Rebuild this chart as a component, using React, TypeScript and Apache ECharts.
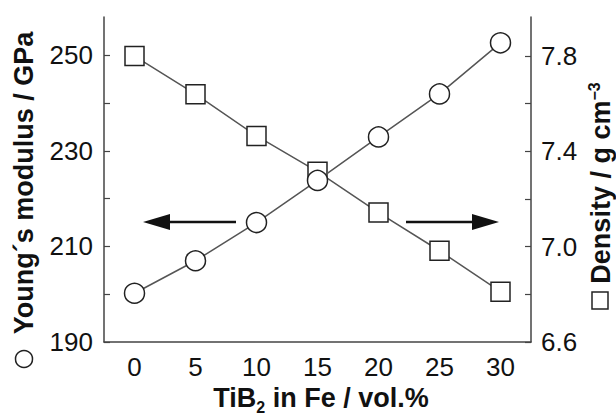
import React, { useEffect, useRef } from "react";
import * as echarts from "echarts";

const categories = ["0", "5", "10", "15", "20", "25", "30"];
const youngsModulus = [200.2, 207.0, 215.0, 223.8, 232.9, 241.9, 252.6];
const density = [7.80, 7.64, 7.465, 7.315, 7.143, 6.983, 6.811];
const leftTicks = [190, 200, 210, 220, 230, 240, 250];
const leftLabels = [190, 210, 230, 250];
const rightTicks = [6.6, 6.8, 7.0, 7.2, 7.4, 7.6, 7.8];
const rightLabels = [6.6, 7.0, 7.4, 7.8];

export default function App() {
  const ref = useRef<HTMLDivElement>(null);
  useEffect(() => {
    if (!ref.current) return;
    const chart = echarts.init(ref.current, null, { renderer: "svg" });
    const font = "Liberation Sans, Arial, sans-serif";
    const axisColor = "#444";
    const titleFont = `bold 27px ${font}`;
    chart.setOption({
      animation: false,
      backgroundColor: "#fff",
      grid: { left: 104, right: 85, top: 17, bottom: 72 },
      xAxis: {
        type: "category",
        data: categories,
        boundaryGap: true,
        axisLine: { lineStyle: { color: axisColor, width: 1.5 } },
        axisTick: { alignWithLabel: true, inside: true, length: 5, lineStyle: { color: axisColor, width: 1.2 } },
        axisLabel: { color: "#111", fontSize: 26, fontFamily: font, margin: 12 },
        splitLine: { show: false },
      },
      yAxis: [
        {
          type: "value",
          min: 190,
          max: 258,
          interval: 10,
          axisLine: { show: true, lineStyle: { color: axisColor, width: 1.5 } },
          axisTick: { show: true, inside: true, length: 6, customValues: leftTicks, lineStyle: { color: axisColor, width: 1.2 } },
          axisLabel: { color: "#111", fontSize: 26, fontFamily: font, margin: 11, customValues: leftLabels },
          splitLine: { show: false },
        },
        {
          type: "value",
          min: 6.6,
          max: 7.964,
          interval: 0.2,
          axisLine: { show: true, lineStyle: { color: axisColor, width: 1.5 } },
          axisTick: { show: true, inside: true, length: 6, customValues: rightTicks, lineStyle: { color: axisColor, width: 1.2 } },
          axisLabel: {
            color: "#111",
            fontSize: 26,
            fontFamily: font,
            margin: 10,
            customValues: rightLabels,
            formatter: (v: number) => v.toFixed(1),
          },
          splitLine: { show: false },
        },
      ],
      series: [
        {
          name: "Density",
          type: "line",
          yAxisIndex: 1,
          data: density,
          symbol: "rect",
          symbolSize: 19,
          lineStyle: { color: "#555", width: 1.5 },
          itemStyle: { color: "#fff", borderColor: "#222", borderWidth: 1.5 },
          z: 2,
        },
        {
          name: "Young's modulus",
          type: "line",
          yAxisIndex: 0,
          data: youngsModulus,
          symbol: "circle",
          symbolSize: 20,
          lineStyle: { color: "#555", width: 1.5 },
          itemStyle: { color: "#fff", borderColor: "#222", borderWidth: 1.5 },
          z: 3,
        },
      ],
      graphic: [
        {
          type: "text",
          x: 24,
          y: 183,
          rotation: Math.PI / 2,
          style: {
            text: "Young´s modulus / GPa",
            fill: "#111",
            font: titleFont,
            textAlign: "center",
            textVerticalAlign: "middle",
          },
        },
        {
          type: "circle",
          shape: { cx: 24, cy: 359, r: 8.5 },
          style: { fill: "none", stroke: "#222", lineWidth: 1.5 },
        },
        {
          type: "text",
          x: 599,
          y: 183,
          rotation: Math.PI / 2,
          style: {
            text: "{a|Density / g cm}{s|−3}",
            textAlign: "center",
            textVerticalAlign: "middle",
            rich: {
              a: { fill: "#111", font: titleFont, lineHeight: 30, verticalAlign: "bottom" },
              s: { fill: "#111", font: `bold 16px ${font}`, lineHeight: 30, verticalAlign: "top", padding: [2, 0, 0, 0] },
            },
          },
        },
        {
          type: "rect",
          shape: { x: 592, y: 292, width: 16, height: 17 },
          style: { fill: "none", stroke: "#222", lineWidth: 1.5 },
        },
        {
          type: "text",
          x: 321,
          y: 397,
          style: {
            text: "{a|TiB}{s|2}{a| in Fe / vol.%}",
            textAlign: "center",
            textVerticalAlign: "middle",
            rich: {
              a: { fill: "#111", font: titleFont, lineHeight: 28, verticalAlign: "bottom" },
              s: { fill: "#111", font: `bold 16px ${font}`, lineHeight: 28, verticalAlign: "bottom", padding: [0, 0, -4, 0] },
            },
          },
        },
        { type: "line", shape: { x1: 236, y1: 222, x2: 165, y2: 222 }, style: { stroke: "#111", lineWidth: 2.5 } },
        { type: "polygon", shape: { points: [[143, 222], [170, 214], [170, 230]] }, style: { fill: "#111" } },
        { type: "line", shape: { x1: 406, y1: 222, x2: 476, y2: 222 }, style: { stroke: "#111", lineWidth: 2.5 } },
        { type: "polygon", shape: { points: [[499, 222], [472, 214], [472, 230]] }, style: { fill: "#111" } },
      ],
    });
    return () => chart.dispose();
  }, []);
  return <div ref={ref} style={{ position: "fixed", left: 0, top: 0, width: 616, height: 414 }} />;
}
